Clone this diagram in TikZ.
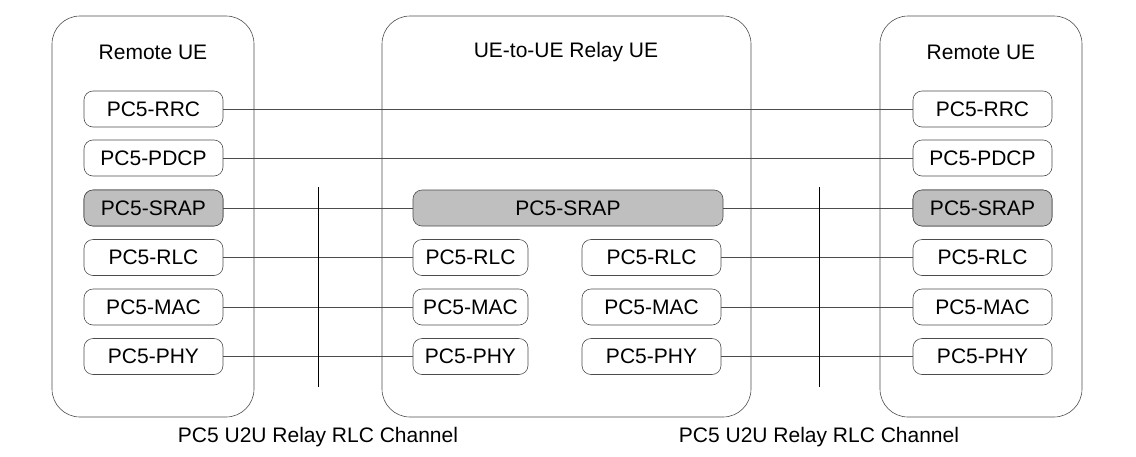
\documentclass[tikz,border=0pt]{standalone}
\usepackage{fontspec}
\setmainfont{Liberation Sans}
\begin{document}
\begin{tikzpicture}[x=1pt,y=-1pt,
  box/.style={draw=black!70,rounded corners=28pt,line width=0.6pt},
  lay/.style={draw=black!70,rounded corners=9pt,line width=0.6pt,font=\fontsize{21}{24}\selectfont,inner sep=0pt},
  grey/.style={fill=black!25},
  ln/.style={draw=black!70,line width=0.5pt},
  lbl/.style={font=\fontsize{21}{24}\selectfont}]
\useasboundingbox (0,0) rectangle (1136,456);
\draw[box] (52,16) rectangle (254,417);
\draw[box] (382,16) rectangle (751,417);
\draw[box] (880,16) rectangle (1082,417);
\node[lbl] (t1) at (153,52) {Remote UE};
\node[lbl] (t2) at (566,52) {UE-to-UE Relay UE};
\node[lbl] (t3) at (981,52) {Remote UE};
\def\ys{{109,158,208,257.5,307,356.5}}
\foreach \n/\t/\k [count=\i from 0] in {rrc/RRC/0,pdcp/PDCP/1,srap/SRAP/2,rlc/RLC/3,mac/MAC/4,phy/PHY/5}{
  \pgfmathsetmacro{\yy}{\ys[\i]}
  \node[lay,minimum width=139pt,minimum height=36pt] (L\n) at (153.5,\yy) {PC5-\t};
  \node[lay,minimum width=139pt,minimum height=36pt] (R\n) at (982.5,\yy) {PC5-\t};
}
\node[lay,grey,minimum width=139pt,minimum height=36pt] at (Lsrap) {PC5-SRAP};
\node[lay,grey,minimum width=139pt,minimum height=36pt] at (Rsrap) {PC5-SRAP};
\node[lay,grey,minimum width=310pt,minimum height=36pt] (Msrap) at (568,208) {PC5-SRAP};
\foreach \n/\t [count=\i from 3] in {rlc/RLC,mac/MAC,phy/PHY}{
  \pgfmathsetmacro{\yy}{\ys[\i]}
  \node[lay,minimum width=115pt,minimum height=36pt] (A\n) at (470.5,\yy) {PC5-\t};
  \node[lay,minimum width=139pt,minimum height=36pt] (B\n) at (651.5,\yy) {PC5-\t};
  \draw[ln] (L\n) -- (A\n);
  \draw[ln] (B\n) -- (R\n);
}
\draw[ln] (Lrrc) -- (Rrrc);
\draw[ln] (Lpdcp) -- (Rpdcp);
\draw[ln] (Lsrap) -- (Msrap);
\draw[ln] (Msrap) -- (Rsrap);
\coordinate (v1a) at (318,187); \coordinate (v1b) at (318,387);
\coordinate (v2a) at (819,187); \coordinate (v2b) at (819,387);
\draw[ln,draw=black] (v1a) -- (v1b);
\draw[ln,draw=black] (v2a) -- (v2b);
\node[lbl] (c1) at (318,437) {PC5 U2U Relay RLC Channel};
\node[lbl] (c2) at (819,437) {PC5 U2U Relay RLC Channel};
\end{tikzpicture}
\end{document}
